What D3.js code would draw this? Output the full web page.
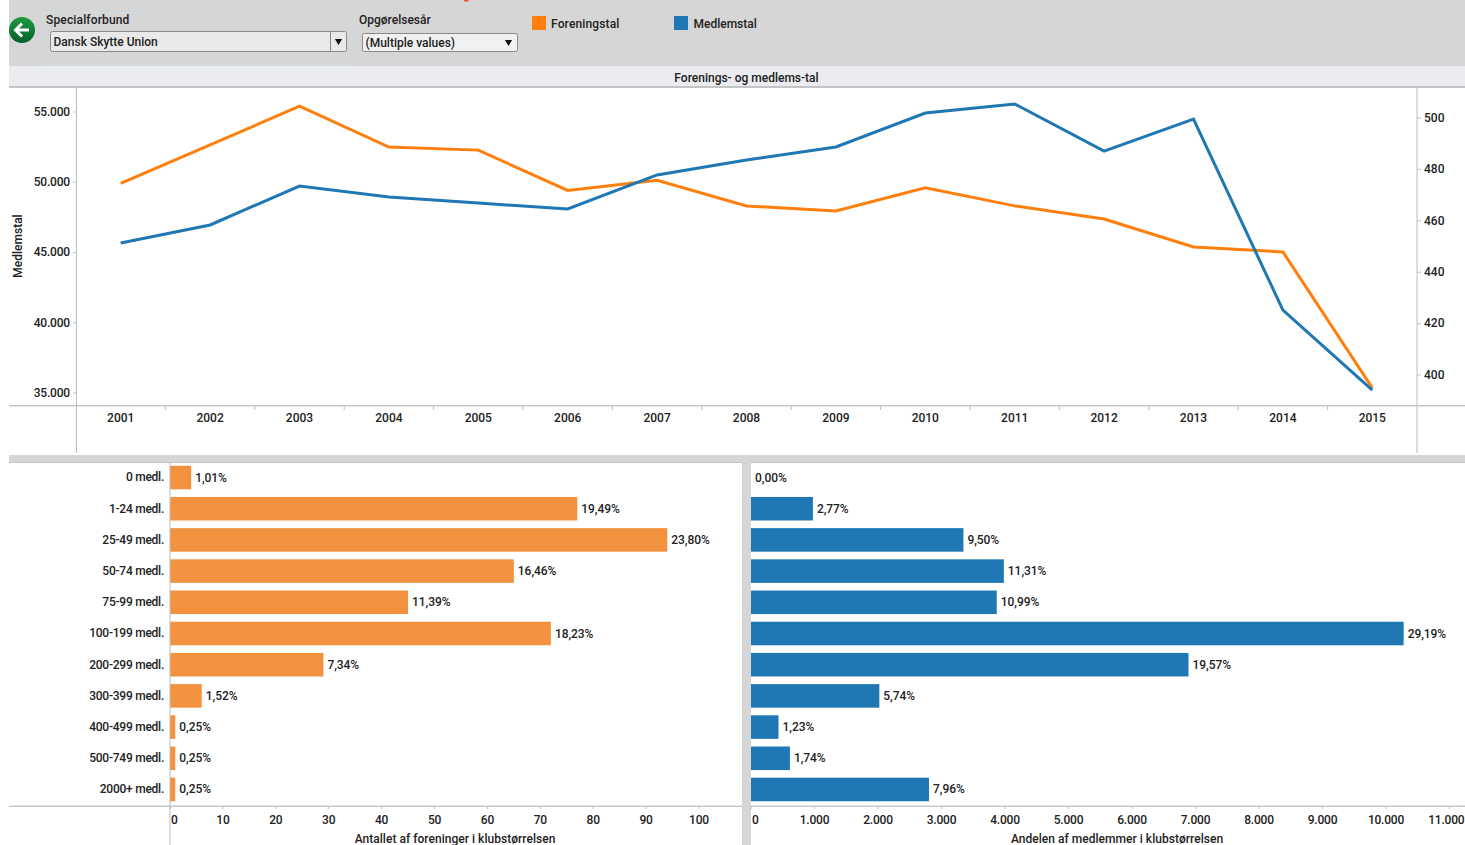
<!DOCTYPE html>
<html>
<head>
<meta charset="utf-8">
<script src="https://cdnjs.cloudflare.com/ajax/libs/d3/7.8.5/d3.min.js"></script>
<style>
  body { margin: 0; background: white; }
  svg { display: block; }
  text { font-family: Roboto, sans-serif; font-size: 12px; fill: #222; font-weight: 500; }
</style>
</head>
<body>
<svg id="chart" width="1465" height="845"></svg>
<script>
// line chart data
const years = ["2001","2002","2003","2004","2005","2006","2007","2008","2009","2010","2011","2012","2013","2014","2015"]
const medlemstal = [45680,46960,49730,48950,48520,48100,50520,51580,52510,54930,55570,52220,54500,40900,35210]
const foreningstal = [474.6,489.5,504.6,488.7,487.5,471.8,475.8,465.8,463.8,472.8,465.8,460.7,449.8,447.9,395]
const medlem_ticks = [35000,40000,45000,50000,55000]
const forening_ticks = [400,420,440,460,480,500]

// bar chart data
const sizes = ["0 medl.","1-24 medl.","25-49 medl.","50-74 medl.","75-99 medl.","100-199 medl.","200-299 medl.","300-399 medl.","400-499 medl.","500-749 medl.","2000+ medl."]
const foreninger = [4,77,94,65,45,72,29,6,1,1,1]
const foreninger_pct = ["1,01%","19,49%","23,80%","16,46%","11,39%","18,23%","7,34%","1,52%","0,25%","0,25%","0,25%"]
const medlemmer = [0,975,3345,3982,3870,10278,6890,2021,433,613,2803]
const medlemmer_pct = ["0,00%","2,77%","9,50%","11,31%","10,99%","29,19%","19,57%","5,74%","1,23%","1,74%","7,96%"]
const foreninger_ticks = [0,10,20,30,40,50,60,70,80,90,100]
const medlemmer_ticks = [0,1000,2000,3000,4000,5000,6000,7000,8000,9000,10000,11000]

const orange = "#ff7f0e", blue = "#1f77b4", bar_orange = "#f2923f"
const axis_grey = "#bdbdbd", panel_grey = "#d6d6d6"
const dots = d3.format(",")
const fmt = d => dots(d).replace(/,/g, ".")

const svg = d3.select("#chart")

// ---- header and panel backgrounds
const rect = (x, y, w, h, fill, stroke) => svg.append("rect")
  .attr("x", x).attr("y", y).attr("width", w).attr("height", h)
  .attr("fill", fill).attr("stroke", stroke || "none")

rect(9, 0, 1456, 66, panel_grey)
rect(9, 66, 1456, 20, "#eaecef")
rect(9, 86, 1456, 2, "#c4c4c4")
rect(9, 455, 1456, 7, panel_grey)
rect(9, 462, 1456, 1, "#c4c4c4")
rect(742, 462, 9, 383, panel_grey)

// clipped title at the very top
rect(464, 0, 4.5, 1.5, "#f0502a")

// back button
const grad = svg.append("defs").append("linearGradient")
  .attr("id", "green").attr("x1", 0).attr("y1", 0).attr("x2", 0).attr("y2", 1)
grad.append("stop").attr("offset", 0).attr("stop-color", "#1f9a3f")
grad.append("stop").attr("offset", 1).attr("stop-color", "#04602a")
svg.append("circle").attr("cx", 22).attr("cy", 30).attr("r", 13).attr("fill", "url(#green)")
svg.append("path").attr("d", "M29,30H16M22,23.5L15.5,30L22,36.5")
  .attr("fill", "none").attr("stroke", "white").attr("stroke-width", 3)

// filter controls
rect(42.5, 12.5, 312, 52, "none", "#cfdde4")
svg.append("text").attr("x", 46).attr("y", 24).attr("letter-spacing", 0.15).text("Specialforbund")
svg.append("text").attr("x", 359).attr("y", 24).text("Opgørelsesår")

rect(50.5, 31.5, 296, 20, "#e9e9e9", "#8a8a8a").attr("rx", 2)
svg.append("line").attr("x1", 330.5).attr("x2", 330.5).attr("y1", 32).attr("y2", 51).attr("stroke", "#8a8a8a")
svg.append("text").attr("x", 53.5).attr("y", 46).text("Dansk Skytte Union")
rect(362.5, 33.5, 155, 18, "#f1f1f1", "#8a8a8a").attr("rx", 2)
svg.append("text").attr("x", 365.5).attr("y", 47).text("(Multiple values)")

const triangle = d3.symbol().type(d3.symbolTriangle).size(22)
svg.selectAll(".arrow").data([[338.5, 41], [508.5, 42]]).enter().append("path")
  .attr("class", "arrow").attr("d", triangle).attr("fill", "#111")
  .attr("transform", d => "translate(" + d[0] + "," + d[1] + ") rotate(180)")

// legend
rect(532, 16, 14, 14, orange)
svg.append("text").attr("x", 551).attr("y", 28).attr("letter-spacing", 0.15).text("Foreningstal")
rect(674, 16, 14, 14, blue)
svg.append("text").attr("x", 693.5).attr("y", 28).text("Medlemstal")

svg.append("text").attr("x", 746.5).attr("y", 81.5).attr("text-anchor", "middle").text("Forenings- og medlems-tal")

// ---- line chart
const line_x = d3.scaleBand().domain(years).range([76, 1417])
const medlem_y = d3.scaleLinear().domain([35000, 55000]).range([393, 112])
const forening_y = d3.scaleLinear().domain([400, 500]).range([375, 118])
const center = d => line_x(d) + line_x.bandwidth() / 2

const xAxis = svg.append("g").attr("class", "xAxis")
  .attr("transform", "translate(0,405)")
  .call(d3.axisBottom(line_x).tickSize(0).tickPadding(8).offset(0))
xAxis.select(".domain").remove()

// year ticks sit on the band edges
svg.selectAll(".yearTick").data(years.slice(1)).enter().append("line")
  .attr("class", "yearTick")
  .attr("x1", d => line_x(d)).attr("x2", d => line_x(d))
  .attr("y1", 406).attr("y2", 410).attr("stroke", axis_grey)

const leftAxis = svg.append("g").attr("class", "yAxis")
  .attr("transform", "translate(76,0)")
  .call(d3.axisLeft(medlem_y).tickValues(medlem_ticks).tickFormat(fmt).tickSize(3).tickPadding(3).offset(0))
const rightAxis = svg.append("g").attr("class", "yAxis")
  .attr("transform", "translate(1417,0)")
  .call(d3.axisRight(forening_y).tickValues(forening_ticks).tickSize(4).tickPadding(3).offset(0))
leftAxis.select(".domain").remove()
rightAxis.select(".domain").remove()
leftAxis.selectAll(".tick text").attr("letter-spacing", -0.2)

// axis rules
rect(9, 405, 1456, 1.5, "#c8c8c8")
rect(76, 88, 1, 365, axis_grey)
rect(1416.5, 88, 1, 365, axis_grey)

svg.append("text")
  .attr("transform", "translate(21.5,246) rotate(-90)")
  .attr("text-anchor", "middle")
  .text("Medlemstal")

const lineOf = (scale) => d3.line().x((d, i) => center(years[i])).y(d => scale(d))
svg.append("path").datum(foreningstal)
  .attr("d", lineOf(forening_y))
  .attr("fill", "none").attr("stroke", orange).attr("stroke-width", 3)
svg.append("path").datum(medlemstal)
  .attr("d", lineOf(medlem_y))
  .attr("fill", "none").attr("stroke", blue).attr("stroke-width", 3)

// ---- bar charts
const bar_y = d3.scaleBand().domain(sizes).range([462, 805]).paddingInner(0.245).paddingOuter(0.12)

const draw_bars = function(values, labels, x, color, ticks, format, title, titleX) {
  const x0 = x(0)

  svg.append("g").selectAll("rect")
    .data(values)
    .enter().append("rect")
    .attr("x", x0)
    .attr("y", (d, i) => bar_y(sizes[i]))
    .attr("width", d => x(d) - x0)
    .attr("height", bar_y.bandwidth())
    .attr("fill", color)

  svg.append("g").selectAll("text")
    .data(labels)
    .enter().append("text")
    .attr("x", (d, i) => x(values[i]) + 4)
    .attr("y", (d, i) => bar_y(sizes[i]) + bar_y.bandwidth() / 2 + 4)
    .attr("letter-spacing", -0.05)
    .text(d => d)

  const axis = svg.append("g").attr("class", "xAxis")
    .attr("transform", "translate(0,806)")
    .call(d3.axisBottom(x).tickValues(ticks).tickFormat(format).tickSize(3).tickPadding(6).offset(0))
  axis.select(".domain").remove()
  axis.selectAll(".tick text").attr("letter-spacing", -0.2)
  // first label would sit on the rule, nudge it right
  axis.selectAll(".tick text").filter(d => d === 0).attr("text-anchor", "start").attr("x", 1)
  // last one has to stay inside the window
  axis.selectAll(".tick text").filter(d => d === 11000).attr("text-anchor", "end").attr("x", 15)

  svg.append("text")
    .attr("x", titleX).attr("y", 843)
    .attr("text-anchor", "middle")
    .attr("letter-spacing", 0.03)
    .text(title)
}

const foreninger_x = d3.scaleLinear().domain([0, 100]).range([170, 699])
const medlemmer_x = d3.scaleLinear().domain([0, 10000]).range([751, 1386])

draw_bars(foreninger, foreninger_pct, foreninger_x, bar_orange, foreninger_ticks, d => d, "Antallet af foreninger i klubstørrelsen", 455)
draw_bars(medlemmer, medlemmer_pct, medlemmer_x, blue, medlemmer_ticks, fmt, "Andelen af medlemmer i klubstørrelsen", 1117)

const sizeAxis = svg.append("g").attr("class", "yAxis")
  .attr("transform", "translate(170,0)")
  .call(d3.axisLeft(bar_y).tickSize(0).tickPadding(6).offset(0))
sizeAxis.select(".domain").remove()
sizeAxis.selectAll(".tick text").attr("letter-spacing", -0.25)

rect(9, 805.5, 733, 1.5, "#c8c8c8")
rect(751, 805.5, 714, 1.5, "#c8c8c8")
rect(169.5, 462, 1, 383, axis_grey)

d3.selectAll(".tick line").attr("stroke", axis_grey)
d3.selectAll(".tick text").attr("fill", "#222").style("font-size", "12px")
</script>
</body>
</html>
